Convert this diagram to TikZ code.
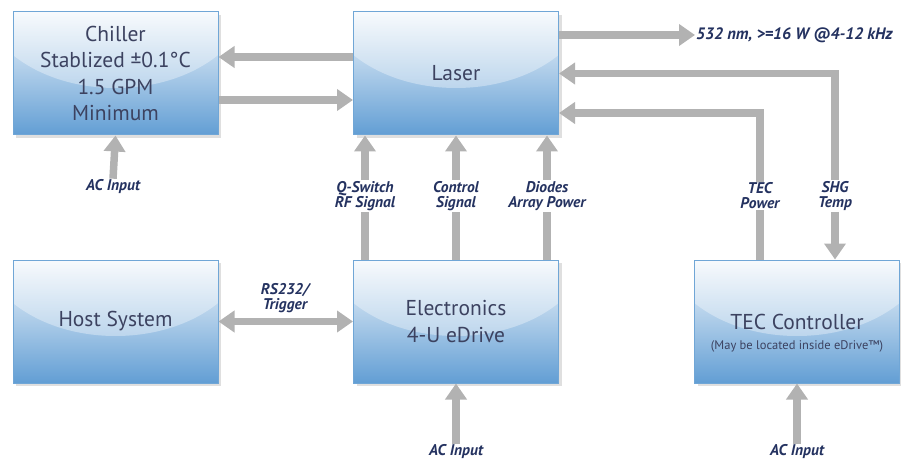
\documentclass[tikz,border=0pt]{standalone}
\usepackage{fontspec}
\setmainfont{PT Sans}
\usepackage{xcolor}
\usepackage{tikz}
\usetikzlibrary{arrows.meta,shadows}

\definecolor{boxtop}{RGB}{244,248,252}
\definecolor{boxbot}{RGB}{98,158,212}
\definecolor{boxline}{RGB}{112,166,214}
\definecolor{pipegray}{RGB}{178,178,178}
\definecolor{boxtext}{RGB}{60,66,96}
\definecolor{labeltext}{RGB}{36,50,96}

\begin{document}
\begin{tikzpicture}[x=1pt,y=-1pt,
    >={Triangle[width=21pt,length=16pt]},
    box/.style={draw=boxline, line width=1pt, top color=boxtop, bottom color=boxbot,
        minimum width=205pt, minimum height=123pt, inner sep=0pt, align=center,
        text=boxtext, font=\fontsize{21.5}{26.5}\selectfont,
        drop shadow={shadow xshift=3pt, shadow yshift=-3pt, opacity=0.25},
        path picture={\fill[white,opacity=0.35] ([yshift=20pt]path picture bounding box.north) ellipse (136pt and 96pt);}},
    lbl/.style={fill=white, align=center, text=labeltext, inner sep=1pt,
        font=\fontsize{15.5}{15}\selectfont\bfseries\itshape},
    note/.style={text=boxtext, font=\fontsize{12.5}{14}\selectfont},
    pipe/.style={draw=pipegray, line width=7.5pt}]

    \useasboundingbox (0,0) rectangle (901,462);

    % Boxes
    \node[box] (chiller) at (115.5,73.5) {Chiller\\Stablized ±0.1°C\\1.5 GPM\\Minimum};
    \node[box] (laser) at (456,73.5) {Laser};
    \node[box] (host) at (115.5,321.5) {Host System};
    \node[box] (edrive) at (456,321.5) {Electronics\\4-U eDrive};
    \node[box] (tec) at (797,321.5) {TEC Controller};
    \node[note] (tecnote) at (797,346) {(May be located inside eDrive™)};

    % Labels
    \node[lbl] (acchiller) at (113,187) {AC Input};
    \node[lbl] (acedrive) at (456,452) {AC Input};
    \node[lbl] (actec) at (797,452) {AC Input};
    \node[lbl] (qswitch) at (365,196) {Q-Switch\\RF Signal};
    \node[lbl] (control) at (456,196) {Control\\Signal};
    \node[lbl] (diodes) at (547,196) {Diodes\\Array Power};
    \node[lbl] (tecpower) at (760,196) {TEC\\Power};
    \node[lbl] (shgtemp) at (835,196) {SHG\\Temp};
    \node[lbl] (rs232) at (285,298) {RS232/\\Trigger};
    \node[lbl, anchor=west, font=\fontsize{16.5}{16}\selectfont\bfseries\itshape] (output) at (695,35) {532 nm, >=16 W @4-12 kHz};

    % Chiller loop
    \draw[pipe,->] ([yshift=16.5pt]laser.west) -- ([yshift=16.5pt]chiller.east);
    \draw[pipe,->] ([yshift=-26.5pt]chiller.east) -- ([yshift=-26.5pt]laser.west);
    \draw[pipe,->] (acchiller.north) -- (chiller.south);

    % Laser output
    \draw[pipe,->] ([yshift=38.5pt]laser.east) -- (output.west);

    % Drive signals
    \draw[pipe] ([xshift=-91pt]edrive.north) -- (qswitch.south);
    \draw[pipe,->] (qswitch.north) -- ([xshift=-91pt]laser.south);
    \draw[pipe] (edrive.north) -- (control.south);
    \draw[pipe,->] (control.north) -- (laser.south);
    \draw[pipe] ([xshift=91pt]edrive.north) -- (diodes.south);
    \draw[pipe,->] (diodes.north) -- ([xshift=91pt]laser.south);

    % TEC lines
    \draw[pipe] ([xshift=-37pt]tec.north) -- (tecpower.south);
    \draw[pipe,->] (tecpower.north) |- ([yshift=-39.5pt]laser.east);
    \draw[pipe,<-] (laser.east) -| (shgtemp.north);
    \draw[pipe,->] (shgtemp.south) -- ([xshift=38pt]tec.north);

    % Host link and power
    \draw[pipe,<->] (host.east) -- (edrive.west);
    \draw[pipe,->] (acedrive.north) -- (edrive.south);
    \draw[pipe,->] (actec.north) -- (tec.south);
\end{tikzpicture}
\end{document}
